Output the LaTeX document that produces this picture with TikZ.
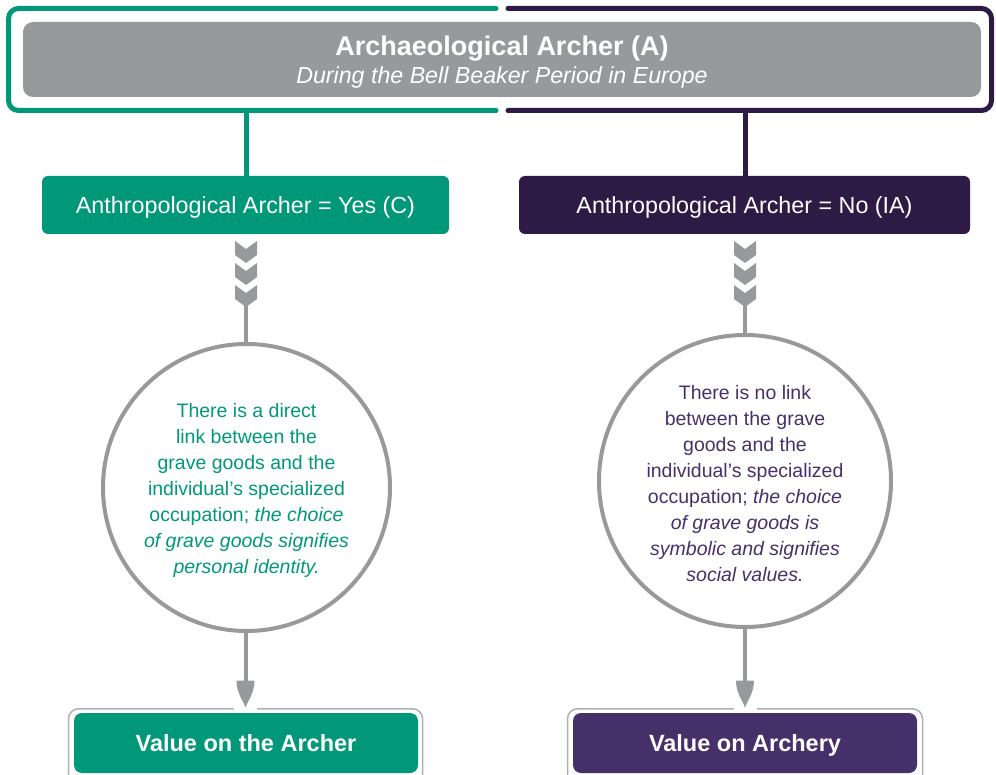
\documentclass[tikz,border=0pt]{standalone}
\usepackage{fontspec}
\setmainfont{Liberation Sans}
\usetikzlibrary{calc}
\definecolor{cgreen}{HTML}{009879}
\definecolor{cpurple}{HTML}{2D1B45}
\definecolor{cpurpletwo}{HTML}{46306A}
\definecolor{cgrey}{HTML}{98999B}
\definecolor{cframe}{HTML}{AEB0B2}
\tikzset{
 bracket/.style={line width=5pt, line cap=round, rounded corners=10pt},
 stembox/.style={rounded corners=6pt, minimum height=58pt, inner sep=0pt, text=white, text depth=0pt, font=\fontsize{23.3}{27}\selectfont},
 circ/.style={circle, draw=cgrey, line width=4pt, inner sep=0pt},
 circtext/.style={align=center, inner sep=0pt, font=\fontsize{19.5}{26}\selectfont},
 valframe/.style={draw=cframe, line width=1.5pt, rounded corners=10pt, inner sep=0pt, minimum height=90pt},
 valbox/.style={rounded corners=8pt, minimum height=60pt, inner sep=0pt, text=white, text depth=0pt, font=\fontsize{23.5}{28}\selectfont\bfseries},
 stem/.style={line width=4.5pt},
 arr/.style={draw=cgrey, line width=4pt},
}
\begin{document}
\begin{tikzpicture}[x=1pt,y=-1pt]
\useasboundingbox (0,0) rectangle (996,775);
\clip (0,0) rectangle (996,775);
% outer bracket
\draw[bracket, cgreen] (496,8.5) -- (8.5,8.5) -- (8.5,110.5) -- (496,110.5);
\draw[bracket, cpurple] (508,8.5) -- (991.5,8.5) -- (991.5,110.5) -- (508,110.5);
\coordinate (bL) at (246.5,110.5);
\coordinate (bR) at (745.5,110.5);
% title box
\node[name=A, fill=cgrey, rounded corners=10pt, minimum width=958pt, minimum height=75pt, inner sep=0pt] at (502,59.5) {};
\node[name=At, inner sep=0pt, text=white, align=center] at ($(A)+(0,2.5)$)
 {{\fontsize{27}{30}\selectfont\bfseries Archaeological Archer (A)}\\[4pt]{\fontsize{23.2}{27}\selectfont\itshape During the Bell Beaker Period in Europe}};
% level boxes
\node[name=C, stembox, fill=cgreen, minimum width=407pt] at (245.5,205) {Anthropological Archer = Yes (C)};
\node[name=IA, stembox, fill=cpurple, minimum width=451pt] at (744.5,205) {Anthropological Archer = No (IA)};
\draw[stem, cgreen] (bL) -- (bL |- C.north);
\draw[stem, cpurple] (bR) -- (bR |- IA.north);
% circles
\node[name=circL, circ, minimum size=287pt] at (246.5,487.5) {};
\node[name=circLt, circtext, text=cgreen] at ($(circL)+(0,3)$)
 {There is a direct\\link between the\\grave goods and the\\individual’s specialized\\occupation; \itshape the choice\\\itshape of grave goods signifies\\\itshape personal identity.};
\node[name=circR, circ, minimum size=292pt] at (745,481) {};
\node[name=circRt, circtext, text=cpurpletwo] at ($(circR)+(0,2.5)$)
 {There is no link\\between the grave\\goods and the\\individual’s specialized\\occupation; \itshape the choice\\\itshape of grave goods is\\\itshape symbolic and signifies\\\itshape social values.};
% chevrons
\coordinate (chL) at (246,241);
\coordinate (chR) at (745,241);
\foreach \c in {chL,chR}{
  \foreach \t in {0,22,44}{
    \fill[cgrey] ($(\c)+(-11,\t)$) -- ++(11,8) -- ++(11,-8) -- ++(0,14) -- ++(-11,8) -- ++(-11,-8) -- cycle;
  }
}
\coordinate (chLe) at (246,300);
\coordinate (chRe) at (745,300);
\draw[arr] (chLe) -- (chLe |- circL.north);
\draw[arr] (chRe) -- (chRe |- circR.north);
% value boxes
\node[name=VLf, valframe, minimum width=354pt] at (245.5,753.75) {};
\node[name=VRf, valframe, minimum width=355pt] at (745,753.75) {};
\coordinate (tipL) at (245.5,707.5);
\coordinate (tipR) at (745,707.5);
\foreach \c in {tipL,tipR}{
  \fill[white] ($(\c)+(-11.5,-3)$) rectangle ($(\c)+(11.5,4)$);
}
\node[name=VL, valbox, fill=cgreen, minimum width=344pt] at (246,743) {Value on the Archer};
\node[name=VR, valbox, fill=cpurpletwo, minimum width=344pt] at (745,743) {Value on Archery};
% bottom arrows
\draw[arr] (tipL |- circL.south) -- ($(tipL)+(0,-25)$);
\draw[arr] (tipR |- circR.south) -- ($(tipR)+(0,-25)$);
\foreach \c in {tipL,tipR}{
  \fill[cgrey] ($(\c)+(-9,-27)$) -- ++(18,0) .. controls +(0,12) and +(3,-8) .. (\c) .. controls +(-3,-8) and +(0,12) .. ($(\c)+(-9,-27)$) -- cycle;
}
\end{tikzpicture}
\end{document}
